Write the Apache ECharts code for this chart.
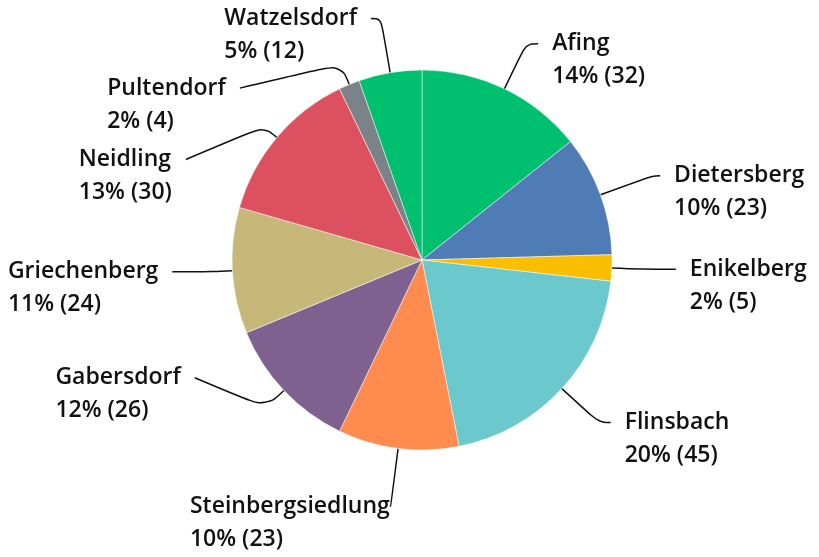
<!DOCTYPE html>
<html>
<head>
<meta charset="utf-8">
<script src="https://cdn.jsdelivr.net/npm/echarts@6/dist/echarts.min.js"></script>
<style>
  html, body { margin: 0; padding: 0; background: #fff; }
  #chart { width: 819px; height: 557px; }
</style>
</head>
<body>
<div id="chart"></div>
<script>
var names = ['Afing', 'Dietersberg', 'Enikelberg', 'Flinsbach', 'Steinbergsiedlung',
             'Gabersdorf', 'Griechenberg', 'Neidling', 'Pultendorf', 'Watzelsdorf'];
var values = [32, 23, 5, 45, 23, 26, 24, 30, 4, 12];
var colors = ['#00bf6f', '#507cb6', '#f9be00', '#6bc8cd', '#ff8b4f',
              '#7f6190', '#c7b879', '#dc505f', '#7a8388', '#00bf6f'];

// label line lengths per slice [first segment, second segment]
var lineLens = [[50, 12], [55, 8], [30, 34], [50, 12], [58, 1],
                [25, 71], [20, 40], [17, 78], [22, 101], [55, 10]];
// vertical nudges of a few crowded labels (line end follows)
var labelShift = [0, 0, 0, 0, 0, -30, 0, 33, 24, 0];

var chart = echarts.init(document.getElementById('chart'));

var total = values.reduce(function (a, b) { return a + b; }, 0);
var pieData = names.map(function (n, i) {
  var item = {
    name: n,
    value: values[i],
    itemStyle: { color: colors[i] },
    labelLine: { length: lineLens[i][0], length2: lineLens[i][1] }
  };
  if (n === 'Steinbergsiedlung') item.label = { distanceToLabelLine: 0 };
  return item;
});

var option = {
  animation: false,
  series: [{
    type: 'pie',
    center: [422, 260],
    radius: 190,
    startAngle: 90,
    clockwise: true,
    avoidLabelOverlap: false,
    data: pieData,
    itemStyle: { borderColor: '#fff', borderWidth: 0.5 },
    labelLayout: function (p) {
      var s = labelShift[p.dataIndex];
      if (!s || !p.labelLinePoints) return { hideOverlap: false };
      var pts = p.labelLinePoints.map(function (pt) { return [pt[0], pt[1]]; });
      pts[pts.length - 1][1] += s;
      return { hideOverlap: false, dy: s, labelLinePoints: pts };
    },
    label: {
      show: true,
      position: 'outside',
      alignTo: 'none',
      distanceToLabelLine: 14,
      padding: [33, 0, 0, 0],
      formatter: function (p) {
        var pct = Math.round(p.value / total * 100);
        return '{n|' + p.name + '}\n{n|' + pct + '% (' + p.value + ')}';
      },
      rich: {
        n: {
          fontFamily: 'Open Sans',
          fontWeight: 600,
          fontSize: 23,
          lineHeight: 33,
          align: 'left',
          color: '#111'
        }
      }
    },
    labelLine: {
      show: true,
      smooth: 0.4,
      lineStyle: { color: '#111', width: 1.5 }
    }
  }]
};
chart.setOption(option);
</script>
</body>
</html>
